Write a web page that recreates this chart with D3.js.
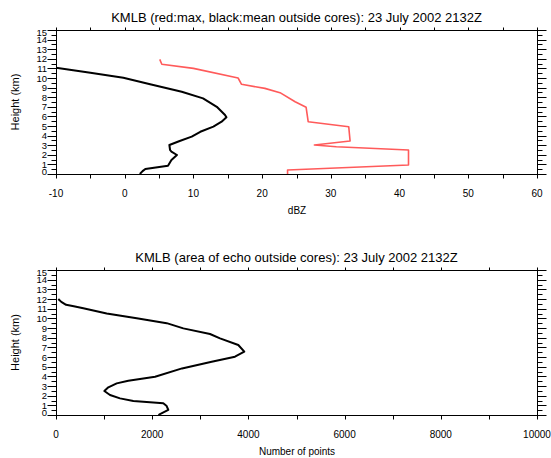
<!DOCTYPE html>
<html>
<head>
<meta charset="utf-8">
<script src="https://cdn.jsdelivr.net/npm/d3@7"></script>
<style>
	body { margin: 0; background: #fff; }
	svg { display: block; font-family: "Liberation Sans", Arial, sans-serif; }
</style>
</head>
<body>
<div id="chart"></div>
<script>
// heights (km) and values
const meanHeight = [0, 0.3, 0.52, 0.86, 1.46, 1.98, 2.32, 2.5, 3.02, 3.44, 3.89, 4.4, 4.93, 5.45, 5.9, 6.15, 7.0, 7.88, 8.57, 9.34, 10.03, 10.55, 10.85, 11.07, 11.1];
const meanDbz = [2.2, 2.6, 3.0, 6.3, 6.8, 7.6, 6.8, 6.6, 6.5, 8.0, 9.75, 11.0, 12.9, 14.1, 14.8, 14.6, 13.4, 11.4, 8.3, 3.7, -0.2, -5.0, -8.0, -10.0, -10.5];

const maxHeight = [0, 0.42, 0.94, 2.5, 2.84, 3.02, 3.44, 4.93, 5.45, 6.95, 7.53, 8.47, 8.92, 9.34, 10.0, 11.0, 11.43, 11.94];
const maxDbz = [23.7, 23.7, 41.3, 41.3, 30.8, 27.6, 32.8, 32.6, 26.7, 26.4, 24.8, 22.6, 20.4, 17.0, 16.5, 10.0, 5.4, 5.1];

const areaHeight = [0, 0.1, 0.52, 0.93, 1.21, 1.45, 1.72, 2.07, 2.48, 2.86, 3.27, 3.55, 3.96, 4.82, 5.51, 6.03, 6.55, 7.24, 7.93, 8.38, 8.96, 9.5, 10.0, 10.5, 11.05, 11.25, 11.4, 11.7, 12.0];
const areaPoints = [2130, 2162, 2335, 2301, 2231, 1608, 1331, 1123, 1005, 1088, 1262, 1503, 2060, 2620, 3237, 3721, 3915, 3790, 3410, 3202, 2647, 2301, 1678, 1054, 568, 370, 210, 110, 48];

const heightTicks = d3.range(0, 16, 1);
const heightMinor = d3.range(0, 15.01, 0.5);
const dbzTicks = d3.range(-10, 61, 10);
const dbzMinor = d3.range(-10, 61, 5);
const areaTicks = d3.range(0, 10001, 2000);
const areaMinor = d3.range(0, 10001, 1000);

const W = 551, H = 458;
const svg = d3.select("#chart").append("svg").attr("width", W).attr("height", H);

function panel(opt) {
	let x = d3.scaleLinear().domain(opt.xDomain).range([56, 537]);
	let y = d3.scaleLinear().domain([0, 15]).range([opt.bottom, opt.top]);
	let g = svg.append("g");

	/* frame */
	g.append("rect")
		.attr("x", 56.5).attr("y", opt.top + 0.5)
		.attr("width", 481).attr("height", opt.bottom - opt.top)
		.attr("fill", "none").attr("stroke", "#000").attr("stroke-width", 1);

	/* left and right ticks, outward */
	[[56, -1], [537, 1]].forEach(([ax, dir]) => {
		g.selectAll(null).data(heightMinor).enter().append("line")
			.attr("x1", ax + 0.5)
			.attr("x2", (d) => ax + 0.5 + dir * (d % 1 === 0 ? 9 : 5))
			.attr("y1", (d) => Math.round(y(d)) + 0.5)
			.attr("y2", (d) => Math.round(y(d)) + 0.5)
			.attr("stroke", "#000");
	});
	g.selectAll(null).data(heightTicks).enter().append("text")
		.attr("x", 47)
		.attr("y", (d) => y(d) + 3.5 + (d === 15 ? 2.5 : d === 0 ? -2.5 : 0))
		.attr("text-anchor", "end")
		.attr("font-size", 9.5)
		.text((d) => d);

	/* top and bottom ticks, outward */
	[[opt.top, -3], [opt.bottom, 4]].forEach(([ay, len]) => {
		g.selectAll(null).data(opt.xMinor).enter().append("line")
			.attr("x1", (d) => Math.round(x(d)) + 0.5)
			.attr("x2", (d) => Math.round(x(d)) + 0.5)
			.attr("y1", ay + 0.5)
			.attr("y2", ay + 0.5 + len)
			.attr("stroke", "#000");
	});
	g.selectAll(null).data(opt.xTicks).enter().append("text")
		.attr("x", (d) => x(d))
		.attr("y", opt.bottom + 23)
		.attr("text-anchor", "middle")
		.attr("font-size", 10)
		.text((d) => d);

	g.append("text")
		.attr("x", 296.5).attr("y", opt.top - 8)
		.attr("text-anchor", "middle")
		.attr("font-size", 13)
		.text(opt.title);
	g.append("text")
		.attr("x", 297).attr("y", opt.bottom + 40)
		.attr("text-anchor", "middle")
		.attr("font-size", 10)
		.text(opt.xLabel);
	g.append("text")
		.attr("transform", `translate(19,${(opt.top + opt.bottom) / 2}) rotate(-90)`)
		.attr("text-anchor", "middle")
		.attr("font-size", 11)
		.text("Height (km)");

	let clip = "clip" + opt.top;
	g.append("clipPath").attr("id", clip).append("rect")
		.attr("x", 56).attr("y", opt.top).attr("width", 481).attr("height", opt.bottom - opt.top + 1);

	opt.series.forEach((s) => {
		let line = d3.line()
			.x((d, i) => x(s.v[i]))
			.y((d) => y(d));
		g.append("path")
			.attr("d", line(s.h))
			.attr("fill", "none")
			.attr("stroke", s.color)
			.attr("stroke-width", s.width)
			.attr("stroke-linejoin", "round")
			.attr("clip-path", `url(#${clip})`);
	});
}

panel({
	top: 30, bottom: 174,
	xDomain: [-10, 60], xTicks: dbzTicks, xMinor: dbzMinor,
	title: "KMLB (red:max, black:mean outside cores): 23 July 2002 2132Z",
	xLabel: "dBZ",
	series: [
		{h: maxHeight, v: maxDbz, color: "#ff5a5a", width: 1.6},
		{h: meanHeight, v: meanDbz, color: "#000", width: 2}
	]
});

panel({
	top: 270, bottom: 415,
	xDomain: [0, 10000], xTicks: areaTicks, xMinor: areaMinor,
	title: "KMLB (area of echo outside cores): 23 July 2002 2132Z",
	xLabel: "Number of points",
	series: [
		{h: areaHeight, v: areaPoints, color: "#000", width: 2}
	]
});
</script>
</body>
</html>
